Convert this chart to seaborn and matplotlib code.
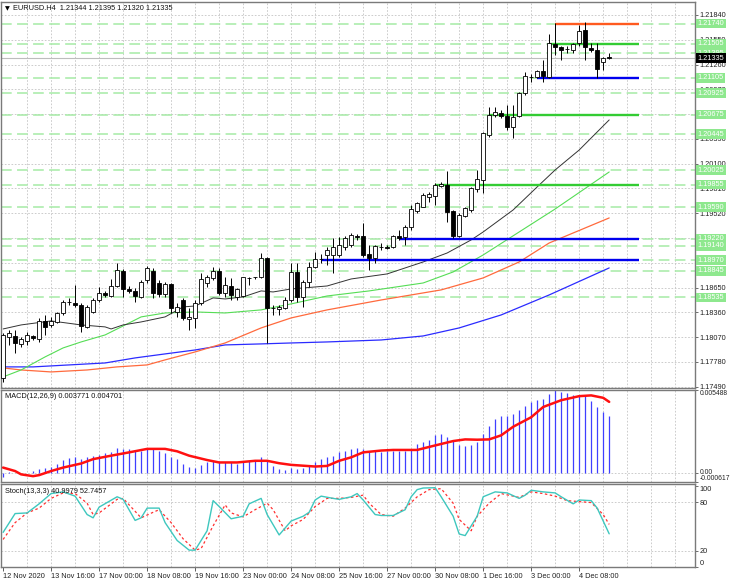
import matplotlib
matplotlib.use("Agg")
import matplotlib.pyplot as plt
import matplotlib.transforms as mtrans
import numpy as np
import seaborn as sns

sns.set_theme(style="white")
plt.rcParams['font.family'] = ['Liberation Sans', 'DejaVu Sans']

# ---------------- data ----------------
header_text = "EURUSD.H4  1.21344 1.21395 1.21320 1.21335"
macd_text = "MACD(12,26,9) 0.003771 0.004701"
stoch_text = "Stoch(13,3,3) 40.9979 52.7457"

x_tick_bars = [0, 8, 16, 24, 32, 40, 48, 56, 64, 72, 80, 88, 96]
x_tick_labels = ["12 Nov 2020", "13 Nov 16:00", "17 Nov 00:00", "18 Nov 08:00",
                 "19 Nov 16:00", "23 Nov 00:00", "24 Nov 08:00", "25 Nov 16:00",
                 "27 Nov 00:00", "30 Nov 08:00", "1 Dec 16:00", "3 Dec 00:00",
                 "4 Dec 08:00"]

price_ticks = ["1.21840", "1.21550", "1.21260", "1.20970", "1.20680", "1.20390",
               "1.20100", "1.19810", "1.19520", "1.19230", "1.18940", "1.18650",
               "1.18360", "1.18070", "1.17780", "1.17490"]

open_ = [1.17593, 1.18069, 1.18084, 1.17991, 1.18030, 1.18084, 1.18045, 1.18264, 1.18213, 1.18252,
         1.18357, 1.18480, 1.18467, 1.18447, 1.18193, 1.18369, 1.18506, 1.18591, 1.18552, 1.18669,
         1.18849, 1.18630, 1.18615, 1.18545, 1.18740, 1.18849, 1.18700, 1.18576, 1.18690, 1.18369,
         1.18505, 1.18287, 1.18291, 1.18467, 1.18700, 1.18759, 1.18849, 1.18583, 1.18669, 1.18537,
         1.18552, 1.18759, 1.18771, 1.18771, 1.18993, 1.18408, 1.18396, 1.18408, 1.18505, 1.18837,
         1.18544, 1.18720, 1.18895, 1.18981, 1.19032, 1.19032, 1.19032, 1.19129, 1.19149, 1.19254,
         1.19254, 1.19044, 1.18993, 1.19125, 1.19122, 1.19129, 1.19254, 1.19239, 1.19356, 1.19551,
         1.19597, 1.19714, 1.19722, 1.19839, 1.19851, 1.19551, 1.19254, 1.19488, 1.19558, 1.19800,
         1.19909, 1.20436, 1.20670, 1.20690, 1.20658, 1.20526, 1.20658, 1.20931, 1.21120, 1.21118,
         1.21185, 1.21118, 1.21501, 1.21462, 1.21440, 1.21431, 1.21508, 1.21665, 1.21450, 1.21431,
         1.21294, 1.21344]
high_ = [1.18120, 1.18155, 1.18155, 1.18076, 1.18135, 1.18096, 1.18291, 1.18330, 1.18311, 1.18369,
         1.18506, 1.18525, 1.18681, 1.18474, 1.18447, 1.18525, 1.18654, 1.18615, 1.18747, 1.18942,
         1.18864, 1.18669, 1.18642, 1.18740, 1.18903, 1.18876, 1.18740, 1.18720, 1.18700, 1.18467,
         1.18525, 1.18408, 1.18505, 1.18817, 1.18798, 1.18895, 1.18876, 1.18778, 1.18759, 1.18642,
         1.18778, 1.18778, 1.18778, 1.19051, 1.19012, 1.18447, 1.18447, 1.18544, 1.18934, 1.18942,
         1.18739, 1.18954, 1.19071, 1.19040, 1.19129, 1.19227, 1.19239, 1.19254, 1.19285, 1.19278,
         1.19402, 1.19149, 1.19149, 1.19169, 1.19149, 1.19266, 1.19320, 1.19383, 1.19617, 1.19656,
         1.19753, 1.19773, 1.19870, 1.19890, 1.20019, 1.19558, 1.19520, 1.19597, 1.19831, 1.20027,
         1.20475, 1.20768, 1.20760, 1.20729, 1.20787, 1.20787, 1.20943, 1.21177, 1.21150, 1.21196,
         1.21314, 1.21618, 1.21750, 1.21477, 1.21477, 1.21516, 1.21723, 1.21762, 1.21508, 1.21508,
         1.21352, 1.21395]
low_ = [1.17550, 1.17979, 1.17881, 1.17960, 1.17979, 1.18038, 1.18018, 1.18096, 1.18193, 1.18232,
        1.18330, 1.18447, 1.18428, 1.18135, 1.18174, 1.18350, 1.18486, 1.18545, 1.18537, 1.18654,
        1.18545, 1.18591, 1.18486, 1.18525, 1.18700, 1.18525, 1.18545, 1.18540, 1.18349, 1.18310,
        1.18271, 1.18154, 1.18174, 1.18447, 1.18662, 1.18739, 1.18564, 1.18544, 1.18505, 1.18505,
        1.18537, 1.18681, 1.18747, 1.18759, 1.17998, 1.18330, 1.18330, 1.18400, 1.18486, 1.18486,
        1.18427, 1.18662, 1.18876, 1.18940, 1.18915, 1.18817, 1.19013, 1.19090, 1.19129, 1.19208,
        1.19013, 1.18856, 1.18934, 1.19090, 1.19098, 1.19110, 1.19208, 1.19149, 1.19324, 1.19520,
        1.19590, 1.19656, 1.19617, 1.19831, 1.19422, 1.19227, 1.19239, 1.19480, 1.19539, 1.19773,
        1.19757, 1.20417, 1.20651, 1.20631, 1.20495, 1.20397, 1.20643, 1.20904, 1.21060, 1.21099,
        1.21060, 1.21099, 1.21372, 1.21314, 1.21399, 1.21391, 1.21477, 1.21314, 1.21411, 1.21099,
        1.21196, 1.21320]
close_ = [1.18096, 1.18123, 1.17999, 1.18045, 1.18096, 1.18057, 1.18264, 1.18186, 1.18264, 1.18357,
          1.18486, 1.18482, 1.18447, 1.18201, 1.18420, 1.18506, 1.18591, 1.18564, 1.18669, 1.18857,
          1.18630, 1.18615, 1.18552, 1.18720, 1.18876, 1.18584, 1.18576, 1.18690, 1.18408, 1.18420,
          1.18291, 1.18310, 1.18474, 1.18747, 1.18771, 1.18845, 1.18583, 1.18681, 1.18564, 1.18630,
          1.18771, 1.18762, 1.18771, 1.18993, 1.18408, 1.18412, 1.18420, 1.18505, 1.18837, 1.18537,
          1.18720, 1.18895, 1.18981, 1.18990, 1.19090, 1.19129, 1.19149, 1.19227, 1.19266, 1.19239,
          1.19032, 1.18993, 1.19137, 1.19130, 1.19118, 1.19254, 1.19227, 1.19363, 1.19566, 1.19636,
          1.19734, 1.19746, 1.19851, 1.19862, 1.19539, 1.19254, 1.19500, 1.19578, 1.19812, 1.19917,
          1.20456, 1.20670, 1.20709, 1.20659, 1.20526, 1.20651, 1.20931, 1.21126, 1.21118, 1.21185,
          1.21126, 1.21508, 1.21462, 1.21431, 1.21443, 1.21501, 1.21657, 1.21462, 1.21431, 1.21204,
          1.21341, 1.21335]

# moving averages (read at sample bars)
ma_black_bar = [0, 3, 8, 13, 17, 18, 20, 23, 27, 30, 32, 35, 37, 40, 43, 45, 48, 54, 58, 64,
                70, 74, 78, 80, 85, 89, 92, 96, 101]
ma_black_val = [1.18166, 1.18213, 1.18260, 1.18213, 1.18190, 1.18166, 1.18213, 1.18248, 1.18307,
                1.18424, 1.18435, 1.18529, 1.18517, 1.18541, 1.18611, 1.18599, 1.18634, 1.18669,
                1.18751, 1.18810, 1.18950, 1.19055, 1.19208, 1.19301, 1.19559, 1.19828, 1.20027,
                1.20260, 1.20612]
ma_green_bar = [0, 3, 7, 10, 13, 17, 20, 23, 27, 32, 37, 43, 48, 54, 61, 70, 75, 80, 92, 101]
ma_green_val = [1.17605, 1.17686, 1.17839, 1.17944, 1.18014, 1.18096, 1.18201, 1.18307, 1.18353,
                1.18365, 1.18353, 1.18389, 1.18459, 1.18552, 1.18611, 1.18704, 1.18833, 1.19032,
                1.19570, 1.20003]
ma_orange_bar = [0, 3, 8, 14, 19, 24, 27, 32, 37, 43, 48, 54, 63, 73, 80, 86, 91, 101]
ma_orange_val = [1.17710, 1.17686, 1.17663, 1.17686, 1.17722, 1.17745, 1.17804, 1.17897, 1.18002,
                 1.18178, 1.18295, 1.18389, 1.18505, 1.18623, 1.18763, 1.18950, 1.19172, 1.19465]
ma_blue_bar = [0, 5, 11, 17, 22, 27, 32, 37, 43, 48, 54, 63, 70, 76, 83, 91, 101]
ma_blue_val = [1.17722, 1.17722, 1.17745, 1.17768, 1.17827, 1.17874, 1.17920, 1.17979, 1.17991,
               1.18002, 1.18014, 1.18037, 1.18084, 1.18178, 1.18330, 1.18564, 1.18880]

# horizontal level lines (dashed, labelled on the right)
level_values = [1.21740, 1.21505, 1.21395, 1.21105, 1.20925, 1.20675, 1.20445, 1.20025,
                1.19855, 1.19590, 1.19220, 1.19140, 1.18970, 1.18845, 1.18535]
level_labels = ["1.21740", "1.21505", "1.21395", "1.21105", "1.20925", "1.20675", "1.20445",
                "1.20025", "1.19855", "1.19590", "1.19220", "1.19140", "1.18970", "1.18845",
                "1.18535"]
current_price = 1.21335
current_label = "1.21335"

# solid support / resistance segments
seg_level = [1.21740, 1.21505, 1.21105, 1.20675, 1.19855, 1.19220, 1.18970]
seg_start = [92, 91, 89, 81, 72, 66, 53]
seg_end = [106, 106, 106, 106, 106, 106, 106]
seg_color = ["#FF5A1F", "#33CC33", "#0000EE", "#33CC33", "#33CC33", "#0000EE", "#0000EE"]

# MACD
macd_hist = [-0.00030, 0.00002, -0.00002, -0.00005, 0.00001, 0.00011, 0.00023, 0.00029, 0.00041, 0.00061,
             0.00084, 0.00097, 0.00106, 0.00093, 0.00102, 0.00113, 0.00120, 0.00131, 0.00140, 0.00167,
             0.00158, 0.00158, 0.00147, 0.00147, 0.00165, 0.00158, 0.00147, 0.00129, 0.00106, 0.00090,
             0.00061, 0.00038, 0.00034, 0.00050, 0.00068, 0.00079, 0.00068, 0.00068, 0.00068, 0.00061,
             0.00068, 0.00075, 0.00084, 0.00102, 0.00075, 0.00045, 0.00023, 0.00016, 0.00029, 0.00025,
             0.00029, 0.00043, 0.00068, 0.00090, 0.00102, 0.00113, 0.00135, 0.00147, 0.00158, 0.00165,
             0.00158, 0.00135, 0.00147, 0.00135, 0.00147, 0.00147, 0.00147, 0.00147, 0.00158, 0.00192,
             0.00203, 0.00219, 0.00248, 0.00260, 0.00237, 0.00215, 0.00187, 0.00174, 0.00187, 0.00203,
             0.00260, 0.00309, 0.00355, 0.00373, 0.00377, 0.00391, 0.00413, 0.00445, 0.00467, 0.00485,
             0.00490, 0.00520, 0.00549, 0.00535, 0.00530, 0.00518, 0.00512, 0.00515, 0.00474, 0.00436,
             0.00406, 0.00377]
macd_sig_bar = [0, 2, 3, 5, 6, 8, 10, 13, 15, 18, 21, 24, 27, 29, 31, 34, 36, 39, 42, 44, 46, 48,
                52, 54, 56, 58, 60, 63, 65, 69, 72, 75, 77, 79, 81, 83, 85, 88, 90, 93, 96, 98,
                100, 101]
macd_sig_val = [0.00034, 0.00011, -0.00011, -0.00023, -0.00016, 0.00011, 0.00034, 0.00061, 0.00090,
                0.00113, 0.00135, 0.00158, 0.00158, 0.00142, 0.00113, 0.00084, 0.00068, 0.00068,
                0.00079, 0.00079, 0.00063, 0.00052, 0.00041, 0.00045, 0.00079, 0.00102, 0.00135,
                0.00147, 0.00151, 0.00151, 0.00181, 0.00210, 0.00221, 0.00219, 0.00221, 0.00248,
                0.00305, 0.00368, 0.00436, 0.00481, 0.00508, 0.00513, 0.00497, 0.00470]
macd_ticks = [0.005488, 0.0, -0.000617]
macd_tick_labels = ["0.005488", "0.00", "-0.000617"]

# Stochastic
stoch_main_bar = [0, 2, 4, 6, 8, 10, 12, 14, 15, 16, 19, 20, 22, 23, 24, 26, 27, 29, 31, 32, 34,
                  35, 36, 38, 40, 41, 43, 44, 46, 48, 50, 51, 52, 53, 55, 56, 58, 59, 60, 62, 63,
                  65, 67, 68, 69, 70, 72, 73, 75, 76, 77, 79, 80, 82, 84, 86, 87, 88, 90, 92, 93,
                  95, 96, 98, 99, 101]
stoch_main_val = [42.8, 66.2, 67.0, 78.3, 91.1, 93.2, 87.9, 65.0, 60.9, 74.2, 87.1, 83.9, 57.7,
                  60.9, 73.0, 73.0, 54.9, 32.7, 20.7, 20.7, 44.8, 82.3, 75.0, 59.7, 62.9, 78.3,
                  85.1, 65.0, 39.6, 56.9, 62.9, 67.8, 83.1, 87.9, 85.1, 83.9, 87.1, 91.1, 83.1,
                  65.0, 63.8, 63.8, 71.0, 87.1, 96.0, 98.0, 98.4, 87.1, 62.9, 40.8, 38.8, 62.9,
                  87.1, 93.2, 91.9, 85.1, 89.1, 95.2, 93.2, 91.9, 87.1, 78.3, 83.1, 82.3, 73.0,
                  41.0]
stoch_sig_bar = [0, 2, 4, 6, 8, 10, 12, 14, 15, 16, 19, 20, 22, 23, 25, 26, 28, 30, 32, 33, 35,
                 37, 38, 40, 42, 44, 45, 47, 48, 50, 52, 54, 56, 58, 60, 61, 63, 65, 67, 69, 71,
                 73, 75, 76, 78, 79, 81, 83, 85, 86, 88, 90, 92, 94, 96, 98, 100, 101]
stoch_sig_val = [34.0, 54.9, 67.0, 73.0, 85.1, 91.9, 91.1, 79.1, 65.0, 67.0, 83.9, 85.1, 69.0,
                 60.9, 67.8, 71.0, 54.9, 34.8, 20.7, 22.7, 50.9, 77.0, 67.0, 62.1, 71.0, 79.1,
                 71.0, 44.8, 50.9, 58.9, 75.0, 85.1, 85.1, 86.3, 89.1, 79.1, 65.0, 62.9, 73.0,
                 87.1, 96.0, 97.2, 79.1, 58.9, 44.8, 62.9, 79.1, 91.1, 87.9, 86.3, 93.2, 91.1,
                 87.9, 82.3, 81.1, 79.9, 65.0, 52.7]
stoch_ticks = [100, 80, 20, 0]
stoch_tick_labels = ["100", "80", "20", "0"]

# ---------------- figure ----------------
W, H = 730, 583
fig = plt.figure(figsize=(W / 100, H / 100), dpi=100)
fig.patch.set_facecolor("white")


def rect(top, bottom, left=1, right=695):
    return [left / W, 1 - bottom / H, (right - left) / W, (bottom - top) / H]


ax = fig.add_axes(rect(2, 388))
axm = fig.add_axes(rect(390, 482))
axs = fig.add_axes(rect(484, 567))

XMIN, XMAX = -0.35, 115.3
FS = 5.3
GRID = dict(color="#C4C4C4", lw=0.6, ls=(0, (2, 2)), zorder=0)
grid_bars = list(range(4, 116, 4))

for a in (ax, axm, axs):
    a.set_facecolor("white")
    a.set_xlim(XMIN, XMAX)
    for s in a.spines.values():
        s.set_color("#7a7a7a")
        s.set_linewidth(1.0)
    a.grid(False)
    for gb in grid_bars:
        a.axvline(gb, **GRID)
    a.yaxis.tick_right()
    a.tick_params(axis="y", which="major", length=2.5, width=0.6, color="#555555",
                  pad=1.0, labelsize=FS, labelcolor="#222222", right=True, left=False)
    a.tick_params(axis="x", which="both", bottom=False, labelbottom=False)

# ----- main panel -----
ax.set_ylim(1.17475, 1.21992)
pt_vals = [float(t) for t in price_ticks]
ax.set_yticks(pt_vals)
ax.set_yticklabels(price_ticks)
for v in pt_vals:
    ax.axhline(v, **GRID)

# dashed levels
for lv in level_values:
    ax.axhline(lv, color="#A6EBA6", lw=1.1, ls=(0, (7, 3.5)), zorder=1)
ax.axhline(current_price, color="#BDBDBD", lw=0.8, zorder=1)

# moving averages
sns.lineplot(x=ma_blue_bar, y=ma_blue_val, ax=ax, color="#2B2BFF", linewidth=0.9,
             estimator=None, sort=False, legend=False, zorder=2)
sns.lineplot(x=ma_orange_bar, y=ma_orange_val, ax=ax, color="#FF6A3D", linewidth=0.9,
             estimator=None, sort=False, legend=False, zorder=2)
sns.lineplot(x=ma_green_bar, y=ma_green_val, ax=ax, color="#55DD55", linewidth=0.8,
             estimator=None, sort=False, legend=False, zorder=2)
sns.lineplot(x=ma_black_bar, y=ma_black_val, ax=ax, color="#333333", linewidth=0.7,
             estimator=None, sort=False, legend=False, zorder=2)

# solid segments
for lv, s0, s1, col in zip(seg_level, seg_start, seg_end, seg_color):
    ax.hlines(lv, s0, s1, color=col, lw=1.7, zorder=3)

# candles
o = np.array(open_)
h = np.array(high_)
l = np.array(low_)
c = np.array(close_)
bars = np.arange(len(o))
ax.vlines(bars, l, h, color="black", lw=0.7, zorder=4)
up = c >= o
body_lo = np.minimum(o, c)
body_h = np.maximum(np.abs(c - o), 0.00002)
ax.bar(bars[up], body_h[up], bottom=body_lo[up], width=0.6, color="white",
       edgecolor="black", linewidth=0.6, zorder=5)
ax.bar(bars[~up], body_h[~up], bottom=body_lo[~up], width=0.6, color="black",
       edgecolor="black", linewidth=0.6, zorder=5)
ax.set_ylim(1.17475, 1.21992)
ax.set_xlim(XMIN, XMAX)

# right-side level labels
btrans = mtrans.blended_transform_factory(ax.transAxes, ax.transData)
for lv, lab in zip(level_values, level_labels):
    ax.text(1.004, lv, lab, transform=btrans, fontsize=FS, color="white", va="center",
            ha="left", clip_on=False, zorder=10,
            bbox=dict(boxstyle="square,pad=0.18", fc="#8EE88E", ec="none"))
ax.text(1.004, current_price, current_label, transform=btrans, fontsize=FS, color="white",
        va="center", ha="left", clip_on=False, zorder=11,
        bbox=dict(boxstyle="square,pad=0.18", fc="black", ec="none"))

fig.text(5 / W, 1 - 8.5 / H, "\u25BC", fontsize=4.5, color="black", va="center", ha="left",
         family=["DejaVu Sans"])
fig.text(13 / W, 1 - 8.5 / H, header_text, fontsize=FS, color="#111111", va="center", ha="left")

# ----- MACD panel -----
axm.set_ylim(-0.000617, 0.005488)
axm.axhline(0, **GRID)
axm.vlines(bars, 0, macd_hist, color="#3F3FFF", lw=0.9, zorder=2)
sns.lineplot(x=macd_sig_bar, y=macd_sig_val, ax=axm, color="#FF1010", linewidth=1.8,
             estimator=None, sort=False, legend=False, zorder=3)
axm.set_xlim(XMIN, XMAX)
axm.set_ylim(-0.000617, 0.005488)
axm.set_yticks(macd_ticks)
axm.set_yticklabels(macd_tick_labels)
tl = axm.get_yticklabels()
tl[0].set_va("top")
tl[1].set_va("center")
tl[2].set_va("bottom")
for t in tl:
    t.set_fontsize(4.9)
axm.text(4 / 694, 0.93, macd_text, transform=axm.transAxes, fontsize=FS, color="#111111",
         va="center", ha="left")

# ----- Stochastic panel -----
axs.set_ylim(-0.3, 103)
axs.axhline(80, **GRID)
axs.axhline(20, **GRID)
sns.lineplot(x=stoch_main_bar, y=stoch_main_val, ax=axs, color="#3EC7BE", linewidth=1.0,
             estimator=None, sort=False, legend=False, zorder=3)
sns.lineplot(x=stoch_sig_bar, y=stoch_sig_val, ax=axs, color="#FF3030", linewidth=0.9,
             linestyle=(0, (2, 2)), estimator=None, sort=False, legend=False, zorder=2)
axs.set_xlim(XMIN, XMAX)
axs.set_ylim(-0.3, 103)
axs.set_yticks(stoch_ticks)
axs.set_yticklabels(stoch_tick_labels)
tl = axs.get_yticklabels()
tl[0].set_va("top")
tl[3].set_va("bottom")
axs.text(4 / 694, 0.915, stoch_text, transform=axs.transAxes, fontsize=FS, color="#111111",
         va="center", ha="left")

axs.set_xticks(x_tick_bars)
axs.set_xticklabels(x_tick_labels)
axs.tick_params(axis="x", which="major", bottom=True, labelbottom=True, length=3, width=0.6,
                color="#444444", pad=1.5, labelsize=FS, labelcolor="#222222", direction="out")
for lab in axs.get_xticklabels():
    lab.set_ha("left")

for a in (ax, axm, axs):
    a.set_xlabel("")
    a.set_ylabel("")

fig.savefig("out.png", dpi=100, facecolor="white")
